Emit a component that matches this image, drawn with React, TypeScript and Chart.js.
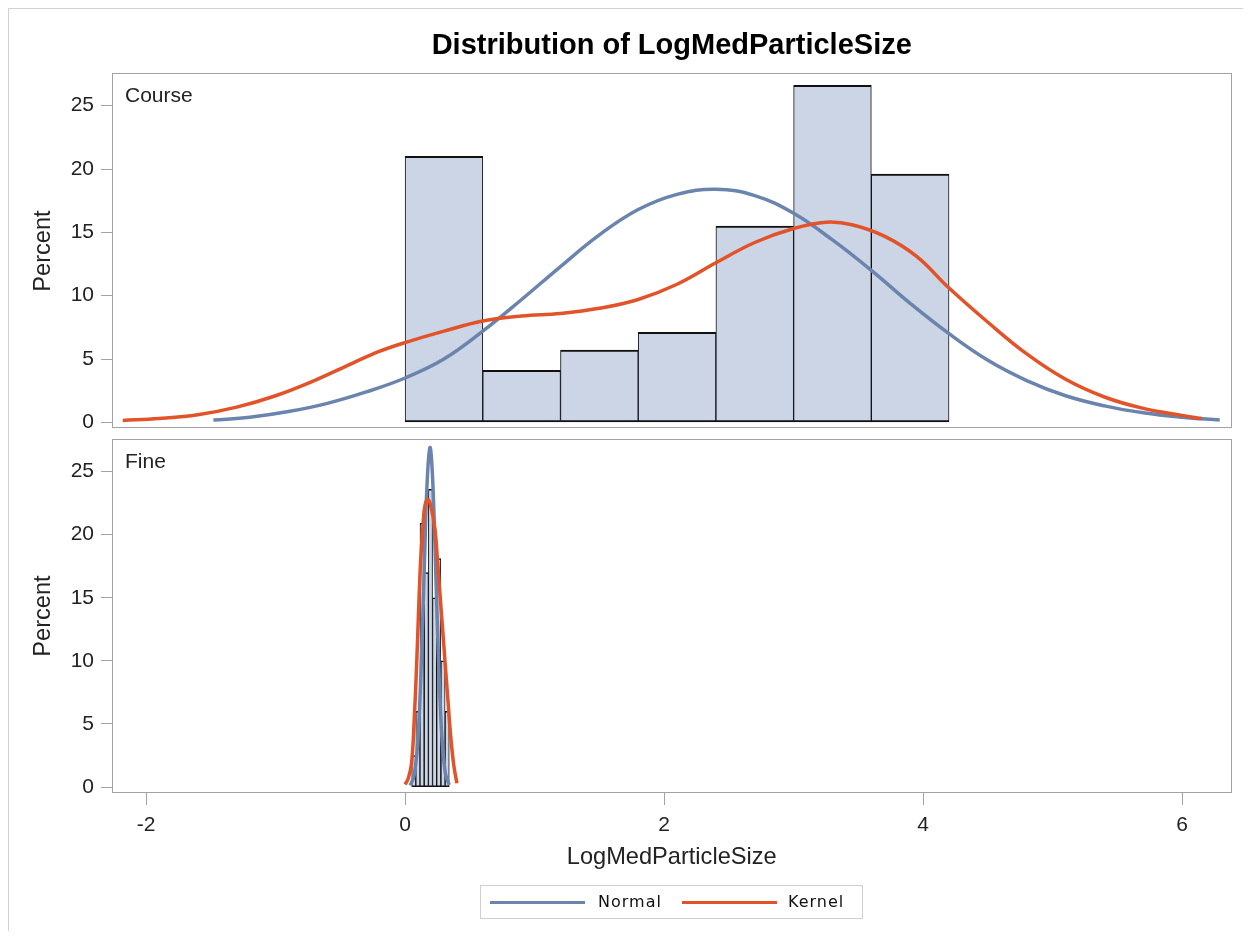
import { useEffect, useRef } from "react";
import { Chart, registerables } from "chart.js";

Chart.register(...registerables);

// ---------- data ----------
const xTickValues = [-2, 0, 2, 4, 6];
const yTickStep = 5;

const courseBinCenters = [0.3, 0.9, 1.5, 2.1, 2.7, 3.3, 3.9];
const coursePercents = [21.0, 4.1, 5.7, 7.1, 15.5, 26.6, 19.6];

const courseNormalX = [-1.48, -1.2, -0.9, -0.6, -0.3, 0, 0.3, 0.6, 0.9, 1.2, 1.5, 1.8, 2.1, 2.4, 2.7, 3.0, 3.3, 3.6, 3.9, 4.2, 4.5, 4.8, 5.1, 5.4, 5.7, 6.0, 6.29];
const courseNormalY = [0.18, 0.4, 0.85, 1.5, 2.4, 3.5, 5.0, 7.2, 9.7, 12.3, 14.8, 16.8, 18.0, 18.4, 17.9, 16.5, 14.4, 12.0, 9.4, 7.0, 4.9, 3.3, 2.1, 1.3, 0.75, 0.4, 0.18];

const courseKernelX = [-2.18, -1.9, -1.6, -1.3, -1.0, -0.7, -0.4, -0.2, 0, 0.3, 0.6, 0.9, 1.2, 1.5, 1.8, 2.1, 2.4, 2.7, 3.0, 3.25, 3.45, 3.7, 3.95, 4.2, 4.5, 4.8, 5.1, 5.4, 5.7, 6.0, 6.15];
const courseKernelY = [0.15, 0.3, 0.6, 1.2, 2.1, 3.3, 4.7, 5.6, 6.3, 7.2, 8.0, 8.4, 8.6, 9.0, 9.7, 10.9, 12.6, 14.2, 15.3, 15.8, 15.6, 14.7, 13.1, 10.6, 7.9, 5.4, 3.4, 2.0, 1.1, 0.55, 0.3];

const fineBinCenters = [0.067, 0.099, 0.131, 0.164, 0.196, 0.228, 0.26, 0.293, 0.325];
const finePercents = [2.5, 6.0, 20.9, 17.0, 23.6, 15.0, 18.1, 10.0, 6.0];

const fineNormalX = [0.04, 0.07, 0.1, 0.13, 0.15, 0.17, 0.192, 0.21, 0.23, 0.25, 0.28, 0.31, 0.34];
const fineNormalY = [0.14, 0.93, 3.9, 11.3, 18.0, 24.1, 26.9, 25.0, 19.4, 12.6, 4.7, 1.15, 0.19];

const fineKernelX = [0.0, 0.025, 0.05, 0.07, 0.09, 0.105, 0.12, 0.14, 0.155, 0.177, 0.2, 0.23, 0.25, 0.27, 0.29, 0.31, 0.33, 0.35, 0.375, 0.4];
const fineKernelY = [0.2, 0.7, 1.9, 5.2, 9.9, 14.2, 17.9, 21.0, 22.4, 22.8, 22.2, 20.5, 18.0, 15.2, 12.5, 9.7, 7.0, 4.3, 1.8, 0.3];

const titleText = "Distribution of LogMedParticleSize";
const xLabel = "LogMedParticleSize";
const yLabel = "Percent";
const panelNames = ["Course", "Fine"];
const legendNames = ["Normal", "Kernel"];

// ---------- styles ----------
const X_MIN = -2.263;
const X_MAX = 6.381;
const Y_MIN = -0.47;
const Y_MAX = 27.58;
const NORMAL_COLOR = "#6b84ad";
const KERNEL_COLOR = "#e2532a";
const BAR_FILL = "#cbd5e5";
const FRAME_COLOR = "#a2a2a2";
const TICK_FONT = { family: "'Liberation Sans', Arial, sans-serif", size: 21 };
const TEXT_COLOR = "#222";

const zip = (xs: number[], ys: number[]) => xs.map((x, i) => ({ x, y: ys[i] }));

const framePlugin = {
  id: "frame",
  afterDatasetsDraw(chart: any) {
    const { ctx, chartArea: a } = chart;
    ctx.save();
    ctx.strokeStyle = FRAME_COLOR;
    ctx.lineWidth = 1;
    const l = Math.round(a.left) + 0.5;
    const t = Math.round(a.top) + 0.5;
    const r = Math.round(a.right) - 0.5;
    const b = Math.round(a.bottom) - 0.5;
    ctx.strokeRect(l, t, r - l, b - t);
    ctx.restore();
  },
};

function buildConfig(
  bars: { x: number; y: number }[],
  normal: { x: number; y: number }[],
  kernel: { x: number; y: number }[],
  showX: boolean,
  padding: any,
  barBorder: any
): any {
  return {
    type: "bar",
    data: {
      datasets: [
        {
          type: "line",
          label: legendNames[1],
          data: kernel,
          borderColor: KERNEL_COLOR,
          borderWidth: 3.5,
          pointRadius: 0,
          tension: 0.4,
          fill: false,
          order: 0,
        },
        {
          type: "line",
          label: legendNames[0],
          data: normal,
          borderColor: NORMAL_COLOR,
          borderWidth: 3.5,
          pointRadius: 0,
          tension: 0.4,
          fill: false,
          order: 1,
        },
        {
          type: "bar",
          label: yLabel,
          data: bars,
          backgroundColor: BAR_FILL,
          borderColor: "#111",
          borderWidth: barBorder,
          borderSkipped: false,
          barPercentage: 1,
          categoryPercentage: 1,
          order: 2,
        },
      ],
    },
    options: {
      responsive: false,
      animation: false,
      events: [],
      devicePixelRatio: 1,
      layout: { padding },
      plugins: {
        legend: { display: false },
        tooltip: { enabled: false },
        title: { display: false },
      },
      scales: {
        x: {
          type: "linear",
          min: X_MIN,
          max: X_MAX,
          offset: false,
          display: showX,
          afterBuildTicks: (s: any) => {
            s.ticks = xTickValues.map((v) => ({ value: v }));
          },
          ticks: {
            stepSize: 2,
            includeBounds: false,
            autoSkip: false,
            maxRotation: 0,
            font: TICK_FONT,
            color: TEXT_COLOR,
            padding: 8,
          },
          grid: {
            display: true,
            offset: false,
            drawOnChartArea: false,
            drawTicks: true,
            tickLength: 12,
            color: FRAME_COLOR,
            lineWidth: 1,
          },
          border: { display: false },
          afterFit: (s: any) => {
            if (showX) s.height = 80;
            s.paddingLeft = 0;
            s.paddingRight = 0;
          },
        },
        y: {
          type: "linear",
          min: Y_MIN,
          max: Y_MAX,
          ticks: {
            stepSize: yTickStep,
            includeBounds: false,
            font: TICK_FONT,
            color: TEXT_COLOR,
            padding: 7,
          },
          grid: {
            display: true,
            offset: false,
            drawOnChartArea: false,
            drawTicks: true,
            tickLength: 11,
            color: FRAME_COLOR,
            lineWidth: 1,
          },
          border: { display: false },
          afterFit: (s: any) => {
            s.width = 104;
            s.paddingTop = 0;
            s.paddingBottom = 0;
          },
        },
      },
    },
    plugins: [framePlugin],
  };
}

const W = 1235;
const H1 = 430;
const H2 = 490;

export default function App() {
  const topRef = useRef<HTMLCanvasElement | null>(null);
  const botRef = useRef<HTMLCanvasElement | null>(null);

  useEffect(() => {
    const courseBars = zip(courseBinCenters, coursePercents);
    const fineBars = zip(fineBinCenters, finePercents);
    const c1 = new Chart(
      topRef.current as HTMLCanvasElement,
      buildConfig(
        courseBars,
        zip(courseNormalX, courseNormalY),
        zip(courseKernelX, courseKernelY),
        false,
        { left: 0, top: 65, right: 11.5, bottom: 9.7 },
        { top: 2, bottom: 2, left: 1, right: 1 }
      )
    );
    const c2 = new Chart(
      botRef.current as HTMLCanvasElement,
      buildConfig(
        fineBars,
        zip(fineNormalX, fineNormalY),
        zip(fineKernelX, fineKernelY),
        true,
        { left: 0, top: 1, right: 11.5, bottom: 55 },
        { top: 1.5, bottom: 1.5, left: 1, right: 1 }
      )
    );
    return () => {
      c1.destroy();
      c2.destroy();
    };
  }, []);

  const sans = "'Liberation Sans', Arial, sans-serif";

  return (
    <div style={{ position: "relative", width: W, height: 923, fontFamily: sans, color: TEXT_COLOR }}>
      <div
        style={{
          position: "absolute",
          left: 0,
          top: 0,
          width: 1235,
          height: 923,
          borderLeft: "1px solid #d2d2d2",
          borderTop: "1px solid #d2d2d2",
          boxSizing: "border-box",
        }}
      />
      <canvas
        ref={topRef}
        width={W}
        height={H1}
        style={{ position: "absolute", left: 0, top: 0, width: W, height: H1 }}
      />
      <canvas
        ref={botRef}
        width={W}
        height={H2}
        style={{ position: "absolute", left: 0, top: 430, width: W, height: H2 }}
      />
      <div
        style={{
          position: "absolute",
          left: 104,
          width: 1119.5,
          top: 22,
          height: 29,
          lineHeight: "29px",
          fontSize: 29,
          fontWeight: "bold",
          textAlign: "center",
          color: "#000",
          whiteSpace: "nowrap",
        }}
      >
        {titleText}
      </div>
      {[242.5, 608].map((cy, i) => (
        <div
          key={i}
          style={{
            position: "absolute",
            left: 35,
            top: cy,
            width: 0,
            height: 0,
          }}
        >
          <div
            style={{
              position: "absolute",
              left: 0,
              top: 0,
              transform: "translate(-50%, -50%) rotate(-90deg)",
              fontSize: 23.6,
              lineHeight: "23.6px",
              whiteSpace: "nowrap",
            }}
          >
            {yLabel}
          </div>
        </div>
      ))}
      {[75.5, 441.5].map((t, i) => (
        <div
          key={i}
          style={{
            position: "absolute",
            left: 117,
            top: t,
            fontSize: 21,
            lineHeight: "21px",
            whiteSpace: "nowrap",
          }}
        >
          {panelNames[i]}
        </div>
      ))}
      <div
        style={{
          position: "absolute",
          left: 104,
          width: 1119.5,
          top: 837,
          fontSize: 23.6,
          lineHeight: "23.6px",
          textAlign: "center",
          whiteSpace: "nowrap",
        }}
      >
        {xLabel}
      </div>
      <div
        style={{
          position: "absolute",
          left: 472,
          top: 877,
          width: 383,
          height: 34,
          border: "1px solid #cfcfcf",
          boxSizing: "border-box",
          fontFamily: "'DejaVu Sans', sans-serif",
          fontSize: 16,
          letterSpacing: 1,
          color: "#111",
        }}
      >
        {[NORMAL_COLOR, KERNEL_COLOR].map((c, i) => (
          <div key={i}>
            <div
              style={{
                position: "absolute",
                left: 9 + i * 192,
                top: 15,
                width: 95,
                height: 3,
                background: c,
              }}
            />
            <div
              style={{
                position: "absolute",
                left: 117 + i * 190,
                top: 6,
                lineHeight: "20px",
                whiteSpace: "nowrap",
              }}
            >
              {legendNames[i]}
            </div>
          </div>
        ))}
      </div>
    </div>
  );
}
